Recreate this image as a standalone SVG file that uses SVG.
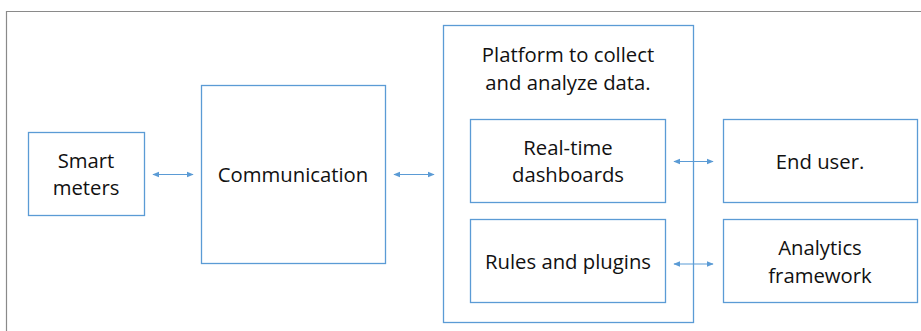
<svg xmlns="http://www.w3.org/2000/svg" width="921" height="331" viewBox="0 0 921 331">
<style>
.box{fill:#fff;stroke:#5B9BD5;stroke-width:1.3}
.t{font-family:"Open Sans","Liberation Sans",sans-serif;font-size:20.3px;fill:#111;text-anchor:middle}
.c{stroke:#5B9BD5;stroke-width:1.2;fill:none;marker-start:url(#a);marker-end:url(#a)}
</style>
<defs>
<marker id="a" viewBox="0 0 10 10" refX="9" refY="5" markerWidth="7" markerHeight="7" orient="auto-start-reverse" markerUnits="userSpaceOnUse">
<path d="M0,1 L10,5 L0,9 z" fill="#5B9BD5"/>
</marker>
</defs>
<rect width="921" height="331" fill="#fff"/>
<path d="M6.5,331 V11.5 H921" fill="none" stroke="#8a8a8a" stroke-width="1.2"/>
<g id="smart-meters"><rect class="box" x="28.5" y="132.5" width="116" height="83"/><text class="t" x="86" y="168">Smart</text><text class="t" x="86" y="195">meters</text></g>
<g id="communication"><rect class="box" x="201.5" y="85.5" width="184" height="178"/><text class="t" x="293" y="182">Communication</text></g>
<g id="platform"><rect class="box" x="443.5" y="25.5" width="250" height="297"/><text class="t" x="568" y="62">Platform to collect</text><text class="t" x="568" y="90">and analyze data.</text></g>
<g id="dashboards"><rect class="box" x="470.5" y="119.5" width="195" height="83"/><text class="t" x="568" y="155">Real-time</text><text class="t" x="568" y="182">dashboards</text></g>
<g id="rules"><rect class="box" x="470.5" y="219.5" width="195" height="83"/><text class="t" x="568" y="269">Rules and plugins</text></g>
<g id="end-user"><rect class="box" x="723.5" y="119.5" width="194" height="83"/><text class="t" x="820" y="169">End user.</text></g>
<g id="analytics"><rect class="box" x="723.5" y="219.5" width="194" height="83"/><text class="t" x="820" y="255">Analytics</text><text class="t" x="820" y="283">framework</text></g>
<g id="connectors">
<line class="c" x1="153" y1="174.5" x2="193" y2="174.5"/>
<line class="c" x1="394" y1="174.5" x2="434" y2="174.5"/>
<line class="c" x1="674" y1="161.5" x2="713" y2="161.5"/>
<line class="c" x1="674" y1="264" x2="713" y2="264"/>
</g>
</svg>
